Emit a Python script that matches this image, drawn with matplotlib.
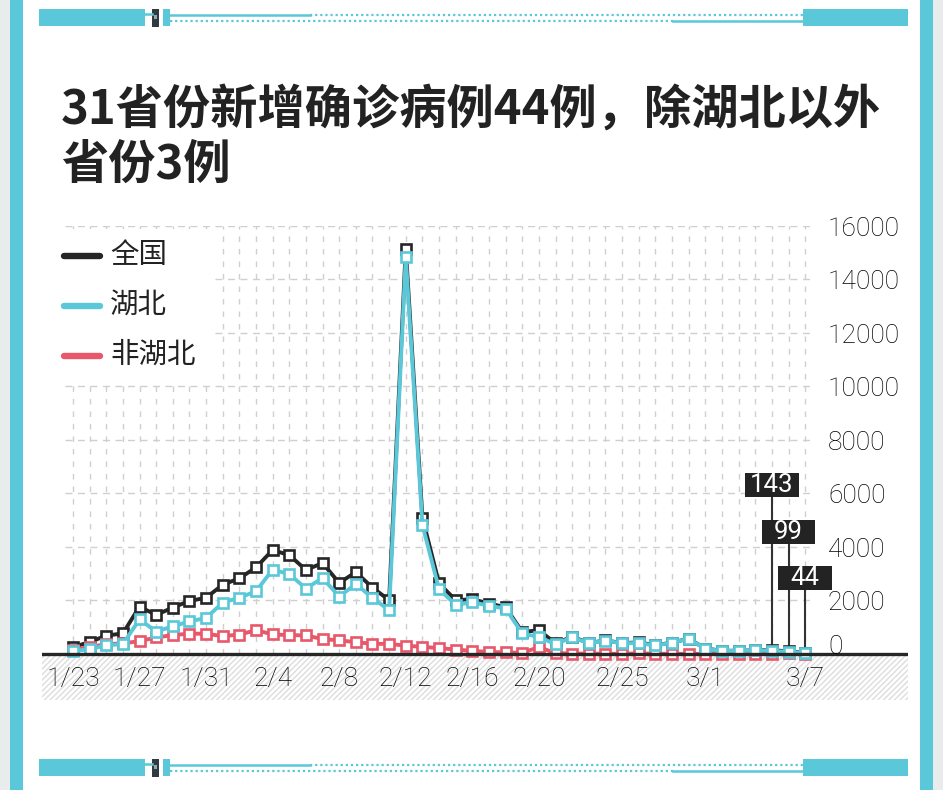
import matplotlib
matplotlib.use("Agg")
import matplotlib.pyplot as plt
from matplotlib.patches import Rectangle
from matplotlib.lines import Line2D
import matplotlib.transforms as mtrans
import pandas as pd
import numpy as np

plt.rcParams['font.family'] = ['Noto Sans CJK SC', 'DejaVu Sans']

# daily new confirmed cases, 1/23 .. 3/7
dates = [d.strftime("%-m/%-d") for d in pd.date_range("2020-01-23", "2020-03-07")]
national = [259, 444, 688, 769, 1771, 1459, 1737, 1982, 2102,
            2590, 2829, 3235, 3887, 3694, 3143, 3399, 2656, 3062, 2478,
            2015, 15152, 5090, 2641, 2009, 2048, 1886, 1749, 820, 889,
            397, 648, 409, 508, 406, 433, 327, 427, 573,
            202, 125, 119, 139, 143, 99, 44]
hubei = [105, 180, 323, 371, 1291, 840, 1032, 1220, 1347,
         1921, 2103, 2345, 3156, 2987, 2447, 2841, 2147, 2618, 2097,
         1638, 14840, 4823, 2420, 1843, 1933, 1807, 1693, 775, 631,
         366, 630, 398, 499, 401, 409, 318, 423, 570,
         196, 114, 115, 134, 126, 74, 41]
non_hubei = [154, 264, 365, 398, 480, 619, 705, 762, 755,
             669, 726, 890, 731, 707, 696, 558, 509, 444, 381,
             377, 312, 267, 221, 166, 115, 79, 56, 45, 258,
             31, 18, 11, 9, 5, 24, 9, 4, 3,
             6, 11, 4, 5, 17, 25, 3]
xtick_labels = ["1/23", "1/27", "1/31", "2/4", "2/8", "2/12", "2/16",
                "2/20", "2/25", "3/1", "3/7"]
yticks = [0, 2000, 4000, 6000, 8000, 10000, 12000, 14000, 16000]
series_names = ["全国", "湖北", "非湖北"]
callout_dates = ["3/5", "3/6", "3/7"]
title = "31省份新增确诊病例44例，除湖北以外\n省份3例"

BLACK = "#262626"
CYAN = "#5ac8d8"
RED = "#e8586b"
GRID = "#cfcfcf"
NUMFONT = ["Roboto", "DejaVu Sans"]

W, H = 943, 790
fig = plt.figure(figsize=(W / 100, H / 100), dpi=100)


def prect(x, y, w, h, color, z=1):
    # rectangle in figure pixel coords (y from top)
    fig.add_artist(Rectangle((x / W, 1 - (y + h) / H), w / W, h / H,
                             transform=fig.transFigure, facecolor=color,
                             edgecolor="none", zorder=z))


def pline(x0, x1, y, color, lw, ls="-", z=2):
    fig.add_artist(Line2D([x0 / W, x1 / W], [1 - y / H, 1 - y / H],
                          transform=fig.transFigure, color=color, lw=lw,
                          linestyle=ls, zorder=z))


# page frame
prect(0, 0, 10, H, "#e8ecec", 0)
prect(933, 0, 10, H, "#e8ecec", 0)
prect(10, 0, 13, H, CYAN, 0)
prect(920, 0, 13, H, CYAN, 0)

# top and bottom ribbons
for oy in (0, 750):
    prect(39, 9 + oy, 106, 17, CYAN)
    prect(803, 9 + oy, 105, 17, CYAN)
    prect(152, 9 + oy, 7, 18, "#2f3b40")
    prect(154, 15 + oy, 3, 4, "#9aa5a8", 2)
    prect(163, 9 + oy, 7, 17, CYAN)
    pline(145, 152, 14 + oy, CYAN, 1.8)
    pline(170, 310, 14.5 + oy, CYAN, 1.8)
    pline(310, 803, 14.5 + oy, CYAN, 1.6, (0, (1, 1.3)))
    pline(170, 673, 20.5 + oy, CYAN, 1.6, (0, (1, 1.3)))
    pline(673, 803, 20.5 + oy, CYAN, 1.8)

# title
fig.text(61 / W, 1 - 86 / H, title, fontsize=34, fontweight="bold",
         color="#222222", va="top", ha="left", linespacing=1.18)

# chart
ax = fig.add_axes([42 / W, 1 - 700 / H, (908 - 42) / W, (700 - 226) / H])
ax.set_xlim(-1.86, 50.18)
ax.set_ylim(-1720, 16000)
ax.axis("off")

x = np.arange(len(dates))

ax.hlines(yticks[1:], -0.45, 44.5, colors=GRID, lw=1.0,
          linestyles=(0, (5, 4)), zorder=1)
ax.vlines(x, 0, 16000, colors=GRID, lw=1.0, linestyles=(0, (4, 5)), zorder=1)

ax.add_patch(Rectangle((-1.86, -1720), 52.04, 1720, facecolor="white",
                       edgecolor="#dddddd", hatch="//////", lw=0, zorder=1))
ax.axhline(0, color=BLACK, lw=2.4, zorder=6)

mk = dict(marker="s", markersize=7.6, markerfacecolor="white",
          markeredgewidth=1.9, lw=2.8, solid_joinstyle="miter")
ax.plot(x, national, color=BLACK, markeredgecolor=BLACK, zorder=3, **mk)
ax.plot(x, non_hubei, color=RED, markeredgecolor=RED, zorder=4, **mk)
ax.plot(x, hubei, color=CYAN, markeredgecolor=CYAN, zorder=5, **mk)

# x labels
for lab in xtick_labels:
    ax.text(dates.index(lab), -930, lab, ha="center", va="center",
            fontsize=19, fontweight="light", family=NUMFONT,
            color="#000000", zorder=7)

# y labels on the right
for v in yticks:
    off = mtrans.offset_copy(ax.transData, fig=fig, x=0,
                             y=(6.5 if v == 0 else -3) * 0.72, units="points")
    ax.text(45.37, v, str(v), transform=off, ha="left", va="center",
            fontsize=19, fontweight="light", family=NUMFONT,
            color="#000000", zorder=7)

# call-out boxes for the last three days
box_y = [6320, 4560, 2840]
for d, by in zip(callout_dates, box_y):
    i = dates.index(d)
    ax.vlines(i, national[i], by, colors="#333333", lw=1.5, zorder=2)
    ax.add_patch(Rectangle((i - 1.62, by - 450), 3.24, 900,
                           facecolor="#232323", edgecolor="none", zorder=8))
    ax.text(i, by, str(national[i]), ha="center", va="center",
            fontsize=18.5, family=NUMFONT, color="white", zorder=9)

# legend on a white box covering the grid
prect(40, 229, 175, 155, "white", 2)
for k, (name, col) in enumerate(zip(series_names, [BLACK, CYAN, RED])):
    yy = 256 + k * 50
    fig.add_artist(Line2D([64 / W, 100 / W], [1 - yy / H, 1 - yy / H],
                          transform=fig.transFigure, color=col, lw=4.6,
                          solid_capstyle="round", zorder=3))
    fig.text(110 / W, 1 - (yy - 1) / H, name, fontsize=20.5,
             fontweight="light", color="#222222",
             va="center", ha="left", zorder=3)

fig.savefig("out.png", dpi=100)
